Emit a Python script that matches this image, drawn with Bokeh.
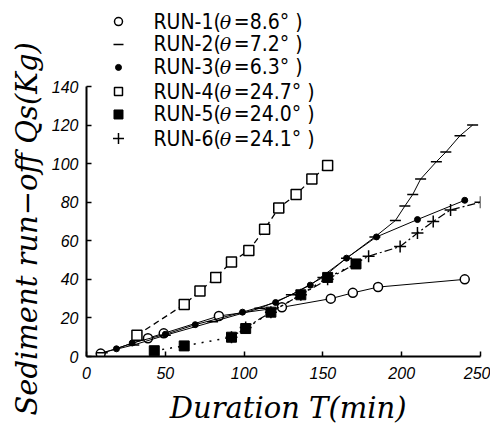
from bokeh.plotting import figure
from bokeh.models import Range1d, FixedTicker, Title
from bokeh.embed import file_html
from bokeh.resources import INLINE
from bokeh.core.properties import value

# ---- data ----
run1_t = [9, 39, 49, 84, 124, 155, 169, 185, 240]
run1_q = [1.5, 9.5, 12, 21, 25.5, 30, 33, 36, 40]

run2_t = [10, 30, 50, 80, 110, 130, 150, 165, 183, 196, 202, 207, 212, 222, 228, 237, 245]
run2_q = [2, 6, 11, 18, 25, 32, 41, 51, 62, 70.5, 78, 84, 92, 101, 106, 114.5, 120]

run3_t = [19, 29, 50, 69, 99, 120, 142, 165, 184, 210, 240]
run3_q = [4, 7, 11.5, 16.5, 23, 28, 37, 51, 62, 71, 81]

run4_t = [32, 62, 72, 82, 92, 103, 113, 122, 133, 143, 153]
run4_q = [11, 27, 34, 41, 49, 55, 66, 77, 84, 92, 99]

run5_t = [43, 62, 92, 101, 117, 136, 153, 171]
run5_q = [3, 5.5, 10, 14.5, 23, 32, 41, 48]

run6_t = [92, 101, 117, 136, 153, 179, 199, 210, 220, 231, 250]
run6_q = [10, 15, 23, 32, 40, 52, 57, 64, 70, 76, 80]

x_ticks = [0, 50, 100, 150, 200, 250]
y_ticks = [0, 20, 40, 60, 80, 100, 120, 140]

legend_prefix = ["RUN-1(", "RUN-2(", "RUN-3(", "RUN-4(", "RUN-5(", "RUN-6("]
legend_rest = ["=8.6°  )", "=7.2°  )", "=6.3°  )", "=24.7°  )", "=24.0°  )", "=24.1°  )"]
legend_rows = [173.7, 161.8, 149.9, 137.4, 125.5, 113.0]

y_title = "Sediment run−off  Qs(Kg)"
x_title = "\u00a0\u00a0Duration  T(min)"

p = figure(width=490, height=430, output_backend="svg", toolbar_location=None,
           x_range=Range1d(0, 250), y_range=Range1d(0, 184.6),
           min_border_left=86, min_border_right=10, min_border_top=0, min_border_bottom=74)
p.grid.visible = False
p.outline_line_color = None
p.background_fill_color = "white"

for ax in (p.xaxis, p.yaxis):
    ax.axis_line_width = 2
    ax.axis_line_color = "black"
    ax.major_tick_in = 5
    ax.major_tick_out = 0
    ax.minor_tick_line_color = None
    ax.major_tick_line_width = 1.5
    ax.major_label_text_font = "Liberation Sans"
    ax.major_label_text_font_style = "italic"
    ax.major_label_text_font_size = "16px"
    ax.major_label_text_color = "black"

p.xaxis.ticker = FixedTicker(ticks=x_ticks)
p.yaxis.ticker = FixedTicker(ticks=y_ticks)
p.yaxis.bounds = (0, 140)
p.xaxis.major_label_standoff = 10
p.yaxis.major_label_standoff = 8

p.xaxis.axis_label = x_title
p.xaxis.axis_label_text_font = "DejaVu Serif"
p.xaxis.axis_label_text_font_style = "italic"
p.xaxis.axis_label_text_font_size = "29px"
p.xaxis.axis_label_standoff = 9
p.xaxis.axis_label_text_color = "black"

ytitle = Title(text=y_title, align="left", offset=-59,
               text_font="DejaVu Serif", text_font_style="italic",
               text_font_size="29px", text_color="black")
p.add_layout(ytitle, "left")

k = "black"
# RUN-1
p.line(run1_t, run1_q, line_color=k, line_width=1)
p.scatter(run1_t, run1_q, marker="circle", size=9, fill_color="white", line_color=k, line_width=1.5)
# RUN-2
p.line(run2_t, run2_q, line_color=k, line_width=1)
p.scatter(run2_t, run2_q, marker="dash", size=11, line_color=k, line_width=1.5)
# RUN-3
p.line(run3_t, run3_q, line_color=k, line_width=1)
p.scatter(run3_t, run3_q, marker="circle", size=6, fill_color=k, line_color=k)
# RUN-4
p.line(run4_t, run4_q, line_color=k, line_width=1.3, line_dash="6 4")
p.scatter(run4_t, run4_q, marker="square", size=10, fill_color="white", line_color=k, line_width=1.5)
# RUN-5
p.line(run5_t, run5_q, line_color=k, line_width=1.5, line_dash="2 6")
p.scatter(run5_t, run5_q, marker="square", size=10, fill_color=k, line_color=k)
# RUN-6
p.line(run6_t, run6_q, line_color=k, line_width=1.2, line_dash="8 3 2 3")
p.scatter(run6_t, run6_q, marker="cross", size=12, line_color=k, line_width=1.5)

# ---- legend ----
lx = 20.3
mk = [dict(marker="circle", size=8, fill_color="white", line_color=k, line_width=1.5),
      dict(marker="dash", size=10, line_color=k, line_width=1.5),
      dict(marker="circle", size=6, fill_color=k, line_color=k),
      dict(marker="square", size=8, fill_color="white", line_color=k, line_width=1.5),
      dict(marker="square", size=9, fill_color=k, line_color=k),
      dict(marker="cross", size=11, line_color=k, line_width=1.5)]
for i in range(6):
    p.scatter([lx], [legend_rows[i]], **mk[i])
p.text(x=[42.5] * 6, y=legend_rows, text=legend_prefix,
       text_font=value("DejaVu Sans Condensed"),
       text_font_size="21px", text_baseline="middle", text_align="left", text_color=k)
p.text(x=[84.5] * 6, y=legend_rows, text=["θ"] * 6,
       text_font=value("DejaVu Serif"), text_font_style="italic",
       text_font_size="19px", text_baseline="middle", text_align="left", text_color=k)
p.text(x=[93.5] * 6, y=legend_rows, text=legend_rest,
       text_font=value("DejaVu Sans Condensed"),
       text_font_size="21px", text_baseline="middle", text_align="left", text_color=k)

open("out.html", "w").write(file_html(p, INLINE))
